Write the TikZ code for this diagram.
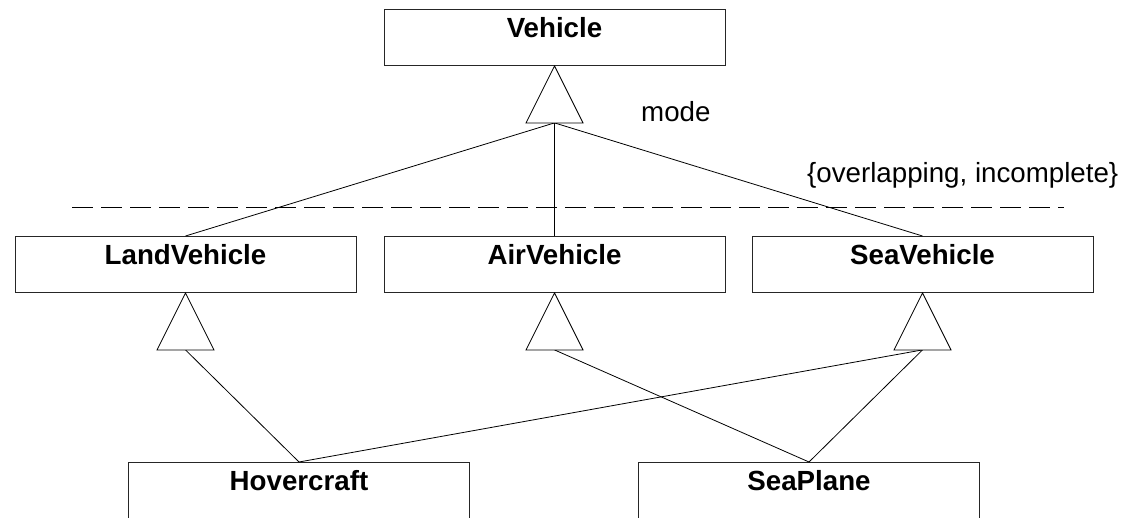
\documentclass[tikz,border=0pt]{standalone}
\usepackage{fontspec}
\setmainfont{Liberation Sans}
\usetikzlibrary{calc}
\begin{document}
\begin{tikzpicture}[x=1pt,y=-1pt,
  classbox/.style={draw=black!85,line width=0.9pt,anchor=north,minimum width=341pt,
    inner sep=0pt,text height=28pt,text depth=28pt,
    font=\fontsize{27.7}{33}\selectfont\bfseries},
  plain/.style={inner sep=0pt,font=\fontsize{27.7}{33}\selectfont},
  link/.style={line width=0.8pt},
  gen/.style={line width=0.8pt,fill=white}]
\useasboundingbox (0,0) rectangle (1127,517);
\clip (0,0) rectangle (1127,517);

% classes
\node[classbox] (veh) at (554.5,9) {Vehicle};
\node[classbox] (land) at (185.5,236) {LandVehicle};
\node[classbox] (air) at (554.5,236) {AirVehicle};
\node[classbox] (sea) at (922.5,236) {SeaVehicle};
\node[classbox] (hover) at (299,462) {Hovercraft};
\node[classbox] (plane) at (809,462) {SeaPlane};

% base centres of the generalization triangles
\foreach \p in {veh,land,air,sea}
  \coordinate (\p T) at ($(\p.south)+(0,57)$);

% discriminator line and texts
\coordinate (dashL) at (72,207.5);
\coordinate (dashR) at (1064,207.5);
\draw[line width=0.8pt,dash pattern=on 20.5pt off 8.5pt] (dashL) -- (dashR);
\node[plain,anchor=base west] (mode) at (641,121) {mode};
\node[plain,anchor=base west] (constr) at (807,182) {\{overlapping, incomplete\}};

% generalization links
\draw[link] (vehT) -- (land.north);
\draw[link] (vehT) -- (air.north);
\draw[link] (vehT) -- (sea.north);
\draw[link] (landT) -- (hover.north);
\draw[link] (seaT) -- (hover.north);
\draw[link] (airT) -- (plane.north);
\draw[link] (seaT) -- (plane.north);

% hollow triangles
\foreach \p in {veh,land,air,sea}
  \draw[gen] (\p.south) -- ($(\p T)+(-28.5,0)$) -- ($(\p T)+(28.5,0)$) -- cycle;
\end{tikzpicture}
\end{document}
